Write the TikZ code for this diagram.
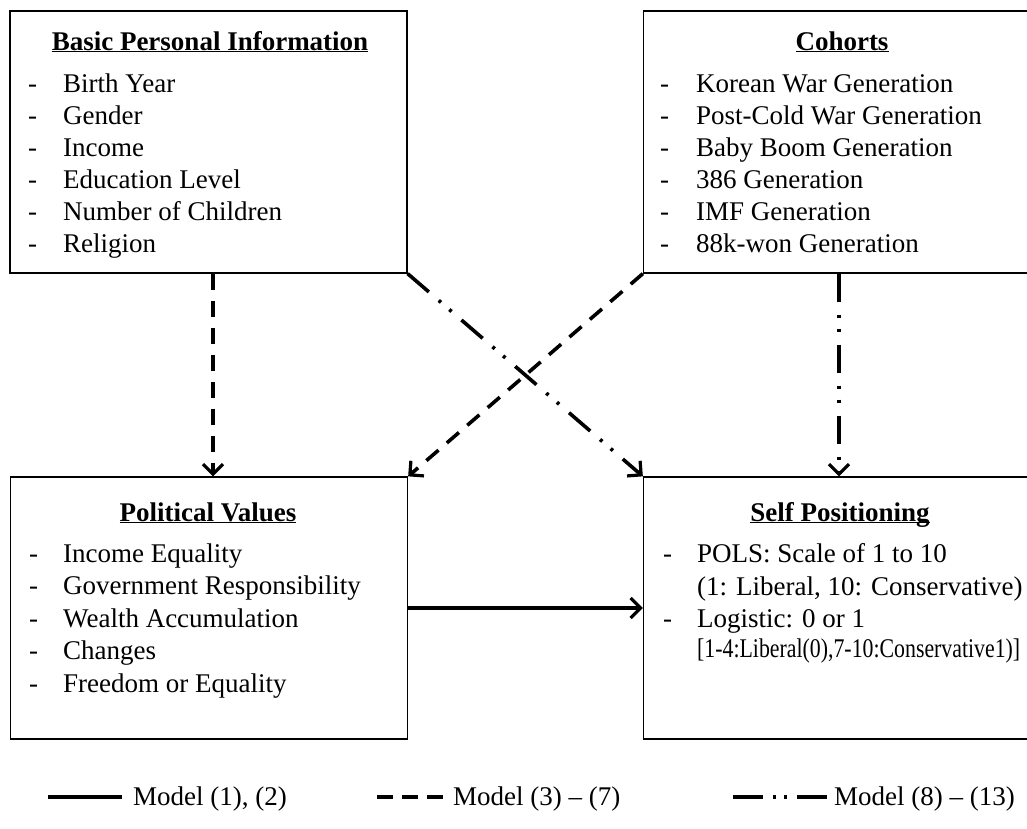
\documentclass[tikz,border=0pt]{standalone}
\usepackage{fontspec}
\usepackage{graphicx}
\setmainfont{Liberation Serif}
\usetikzlibrary{arrows.meta,calc}
\begin{document}
\begin{tikzpicture}[x=1pt,y=-1pt,
  box/.style={draw, line width=1.3pt, inner sep=0pt, minimum width=397pt, minimum height=262pt},
  ttl/.style={anchor=base, inner sep=0pt, font=\fontsize{27}{32}\selectfont\bfseries},
  itm/.style={anchor=base west, inner sep=0pt, font=\fontsize{27}{32}\selectfont},
  conn/.style={line width=3.6pt, -{Straight Barb[length=10pt,width=20pt,line width=3.2pt]}},
  dsh/.style={conn, dash pattern=on 16pt off 11pt},
  dshdot/.style={conn, dash pattern=on 28pt off 13pt on 3pt off 11pt on 3pt off 13pt},
  lgsolid/.style={line width=3.6pt},
  lgdash/.style={line width=3.6pt, dash pattern=on 16pt off 9pt},
  lgdashdot/.style={line width=3.6pt, dash pattern=on 30pt off 10pt on 3pt off 8pt on 3pt off 10pt on 30pt},
]
\useasboundingbox (0,0) rectangle (1027,828);
\clip (0,0) rectangle (1027,828);
\fill[white] (0,0) rectangle (1027,828);

% boxes
\node[box] (bpi) at (208.5,142) {};
\node[box] (coh) at (842,142) {};
\node[box] (pol) at (209,608) {};
\node[box] (slf) at (842,608) {};

% titles
\node[ttl] (bpi-t) at (210,50) {\underline{\smash{Basic Personal Information}}};
\node[ttl] (coh-t) at (842,50) {\underline{\smash{Cohorts}}};
\node[ttl] (pol-t) at (208,521) {\underline{\smash{Political Values}}};
\node[ttl] (slf-t) at (840,521) {\underline{\smash{Self Positioning}}};

% items
\foreach \t [count=\i from 0] in {Birth Year,Gender,Income,Education Level,Number of Children,Religion}
  \node[itm] (bpi-\i) at (28,92+32*\i) {\makebox[35pt][l]{-}\t};
\foreach \t [count=\i from 0] in {Korean War Generation,Post-Cold War Generation,Baby Boom Generation,386 Generation,IMF Generation,88k-won Generation}
  \node[itm] (coh-\i) at (660,92+32*\i) {\makebox[36pt][l]{-}\t};
\foreach \t [count=\i from 0] in {Income Equality,Government Responsibility,Wealth Accumulation,Changes,Freedom or Equality}
  \node[itm] (pol-\i) at (29,562+32.5*\i) {\makebox[34pt][l]{-}\t};
\node[itm] (slf-0) at (663,562) {\makebox[34pt][l]{-}POLS: Scale of 1 to 10};
\node[itm] (slf-1) at (697,595) {(1: Liberal, 10: Conservative)};
\node[itm] (slf-2) at (663,627) {\makebox[34pt][l]{-}Logistic: 0 or 1};
\node[itm] (slf-3) at (697,657) {\resizebox{323pt}{\height}{[1-4:Liberal(0),7-10:Conservative1)]}};

% connectors
\draw[dsh] ($(bpi.south)+(4.5,0)$) -- ($(pol.north)+(4,0)$);
\draw[dshdot] (bpi.south east) -- (slf.north west);
\draw[dsh] (coh.south west) -- (pol.north east);
\draw[dshdot] ($(coh.south)+(-3,0)$) -- ($(slf.north)+(-3,0)$);
\draw[conn] (pol.east) -- (slf.west);

% legend
\coordinate (l1a) at (48,797);
\coordinate (l1b) at (122,797);
\draw[lgsolid] (l1a) -- (l1b);
\node[itm] (lg1) at (133,805) {Model (1), (2)};
\coordinate (l2a) at (377,797);
\coordinate (l2b) at (443,797);
\draw[lgdash] (l2a) -- (l2b);
\node[itm] (lg2) at (453,805) {Model (3) – (7)};
\coordinate (l3a) at (733,797);
\coordinate (l3b) at (830,797);
\draw[lgdashdot] (l3a) -- (l3b);
\node[itm] (lg3) at (834,805) {Model (8) – (13)};
\end{tikzpicture}
\end{document}
